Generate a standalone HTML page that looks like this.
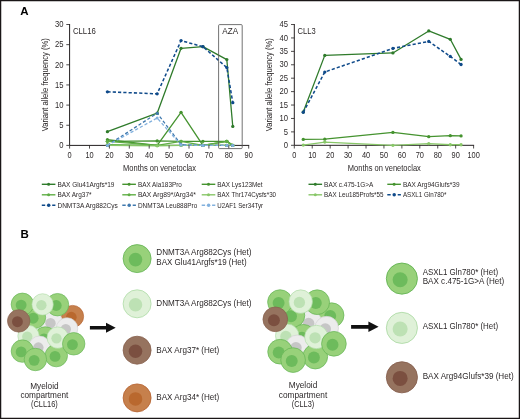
<!DOCTYPE html>
<html lang="en">
<head>
<meta charset="utf-8">
<title>Figure</title>
<style>
html,body{margin:0;padding:0;background:#fff;}
body{width:520px;height:419px;overflow:hidden;position:relative;font-family:"Liberation Sans",sans-serif;}
svg text{font-family:"Liberation Sans",sans-serif;}
</style>
</head>
<body>
<svg width="520" height="419" viewBox="0 0 520 419" style="position:absolute;left:0;top:0;display:block;will-change:transform;opacity:0.999">
<rect x="0" y="0" width="520" height="419" fill="#fff"/>
<path d="M69.6 24.0V145.4H249.2" fill="none" stroke="#231f20" stroke-width="1"/>
<polyline points="107.41,131.70 157.16,113.16 181.04,48.28 202.93,46.67 226.81,59.56 232.78,126.46" fill="none" stroke="#2f7b2b" stroke-width="1.3" stroke-linejoin="round"/>
<circle cx="107.41" cy="131.70" r="1.65" fill="#2f7b2b"/>
<circle cx="157.16" cy="113.16" r="1.65" fill="#2f7b2b"/>
<circle cx="181.04" cy="48.28" r="1.65" fill="#2f7b2b"/>
<circle cx="202.93" cy="46.67" r="1.65" fill="#2f7b2b"/>
<circle cx="226.81" cy="59.56" r="1.65" fill="#2f7b2b"/>
<circle cx="232.78" cy="126.46" r="1.65" fill="#2f7b2b"/>
<polyline points="107.41,139.76 157.16,145.40 181.04,112.35 202.93,145.40 226.81,141.37 232.78,145.40" fill="none" stroke="#45932f" stroke-width="1.3" stroke-linejoin="round"/>
<circle cx="107.41" cy="139.76" r="1.65" fill="#45932f"/>
<circle cx="157.16" cy="145.40" r="1.65" fill="#45932f"/>
<circle cx="181.04" cy="112.35" r="1.65" fill="#45932f"/>
<circle cx="202.93" cy="145.40" r="1.65" fill="#45932f"/>
<circle cx="226.81" cy="141.37" r="1.65" fill="#45932f"/>
<circle cx="232.78" cy="145.40" r="1.65" fill="#45932f"/>
<polyline points="107.41,141.37 157.16,140.97 181.04,141.37 202.93,141.37 226.81,141.37 232.78,145.40" fill="none" stroke="#45932f" stroke-width="1.3" stroke-linejoin="round"/>
<circle cx="107.41" cy="141.37" r="1.65" fill="#45932f"/>
<circle cx="157.16" cy="140.97" r="1.65" fill="#45932f"/>
<circle cx="181.04" cy="141.37" r="1.65" fill="#45932f"/>
<circle cx="202.93" cy="141.37" r="1.65" fill="#45932f"/>
<circle cx="226.81" cy="141.37" r="1.65" fill="#45932f"/>
<circle cx="232.78" cy="145.40" r="1.65" fill="#45932f"/>
<polyline points="107.41,141.37 157.16,145.40 181.04,141.37 202.93,145.40 226.81,141.37 232.78,145.40" fill="none" stroke="#5fae45" stroke-width="1.3" stroke-linejoin="round"/>
<circle cx="107.41" cy="141.37" r="1.65" fill="#5fae45"/>
<circle cx="157.16" cy="145.40" r="1.65" fill="#5fae45"/>
<circle cx="181.04" cy="141.37" r="1.65" fill="#5fae45"/>
<circle cx="202.93" cy="145.40" r="1.65" fill="#5fae45"/>
<circle cx="226.81" cy="141.37" r="1.65" fill="#5fae45"/>
<circle cx="232.78" cy="145.40" r="1.65" fill="#5fae45"/>
<polyline points="107.41,144.59 157.16,145.40 181.04,145.40 202.93,145.40 226.81,145.40 232.78,145.40" fill="none" stroke="#5fae45" stroke-width="1.3" stroke-linejoin="round"/>
<circle cx="107.41" cy="144.59" r="1.65" fill="#5fae45"/>
<circle cx="157.16" cy="145.40" r="1.65" fill="#5fae45"/>
<circle cx="181.04" cy="145.40" r="1.65" fill="#5fae45"/>
<circle cx="202.93" cy="145.40" r="1.65" fill="#5fae45"/>
<circle cx="226.81" cy="145.40" r="1.65" fill="#5fae45"/>
<circle cx="232.78" cy="145.40" r="1.65" fill="#5fae45"/>
<polyline points="107.41,145.40 157.16,145.80 181.04,145.40 202.93,145.40 226.81,145.40 232.78,145.40" fill="none" stroke="#88c768" stroke-width="1.3" stroke-linejoin="round"/>
<circle cx="107.41" cy="145.40" r="1.65" fill="#88c768"/>
<circle cx="157.16" cy="145.80" r="1.65" fill="#88c768"/>
<circle cx="181.04" cy="145.40" r="1.65" fill="#88c768"/>
<circle cx="202.93" cy="145.40" r="1.65" fill="#88c768"/>
<circle cx="226.81" cy="145.40" r="1.65" fill="#88c768"/>
<circle cx="232.78" cy="145.40" r="1.65" fill="#88c768"/>
<polyline points="107.41,91.80 157.16,93.82 181.04,40.62 202.93,46.67 226.81,67.62 232.78,102.68" fill="none" stroke="#0f4a8a" stroke-width="1.55" stroke-dasharray="3.2 2.1" stroke-linejoin="round"/>
<circle cx="107.41" cy="91.80" r="1.65" fill="#0f4a8a"/>
<circle cx="157.16" cy="93.82" r="1.65" fill="#0f4a8a"/>
<circle cx="181.04" cy="40.62" r="1.65" fill="#0f4a8a"/>
<circle cx="202.93" cy="46.67" r="1.65" fill="#0f4a8a"/>
<circle cx="226.81" cy="67.62" r="1.65" fill="#0f4a8a"/>
<circle cx="232.78" cy="102.68" r="1.65" fill="#0f4a8a"/>
<polyline points="107.41,145.40 157.16,113.16 181.04,144.59 202.93,145.40 226.81,145.40 232.78,145.40" fill="none" stroke="#4079ae" stroke-width="1.3" stroke-dasharray="3.2 2.1" stroke-linejoin="round"/>
<circle cx="107.41" cy="145.40" r="1.5" fill="#4079ae"/>
<circle cx="157.16" cy="113.16" r="1.5" fill="#4079ae"/>
<circle cx="181.04" cy="144.59" r="1.5" fill="#4079ae"/>
<circle cx="202.93" cy="145.40" r="1.5" fill="#4079ae"/>
<circle cx="226.81" cy="145.40" r="1.5" fill="#4079ae"/>
<circle cx="232.78" cy="145.40" r="1.5" fill="#4079ae"/>
<polyline points="107.41,145.40 157.16,118.00 181.04,145.00 202.93,145.40 226.81,145.40 232.78,145.40" fill="none" stroke="#82b1de" stroke-width="1.3" stroke-dasharray="3.2 2.1" stroke-linejoin="round"/>
<circle cx="107.41" cy="145.40" r="1.5" fill="#82b1de"/>
<circle cx="157.16" cy="118.00" r="1.5" fill="#82b1de"/>
<circle cx="181.04" cy="145.00" r="1.5" fill="#82b1de"/>
<circle cx="202.93" cy="145.40" r="1.5" fill="#82b1de"/>
<circle cx="226.81" cy="145.40" r="1.5" fill="#82b1de"/>
<circle cx="232.78" cy="145.40" r="1.5" fill="#82b1de"/>
<path d="M66.3 145.40H69.6" stroke="#231f20" stroke-width="0.8"/>
<text transform="translate(63.5 148.1) scale(0.91 1)" font-size="8.4" text-anchor="end" font-weight="normal" fill="#2d292a" >0</text>
<path d="M66.3 125.25H69.6" stroke="#231f20" stroke-width="0.8"/>
<text transform="translate(63.5 127.95) scale(0.91 1)" font-size="8.4" text-anchor="end" font-weight="normal" fill="#2d292a" >5</text>
<path d="M66.3 105.10H69.6" stroke="#231f20" stroke-width="0.8"/>
<text transform="translate(63.5 107.8) scale(0.91 1)" font-size="8.4" text-anchor="end" font-weight="normal" fill="#2d292a" >10</text>
<path d="M66.3 84.95H69.6" stroke="#231f20" stroke-width="0.8"/>
<text transform="translate(63.5 87.65) scale(0.91 1)" font-size="8.4" text-anchor="end" font-weight="normal" fill="#2d292a" >15</text>
<path d="M66.3 64.80H69.6" stroke="#231f20" stroke-width="0.8"/>
<text transform="translate(63.5 67.5) scale(0.91 1)" font-size="8.4" text-anchor="end" font-weight="normal" fill="#2d292a" >20</text>
<path d="M66.3 44.65H69.6" stroke="#231f20" stroke-width="0.8"/>
<text transform="translate(63.5 47.35) scale(0.91 1)" font-size="8.4" text-anchor="end" font-weight="normal" fill="#2d292a" >25</text>
<path d="M66.3 24.50H69.6" stroke="#231f20" stroke-width="0.8"/>
<text transform="translate(63.5 27.2) scale(0.91 1)" font-size="8.4" text-anchor="end" font-weight="normal" fill="#2d292a" >30</text>
<path d="M69.60 145.4V148.6" stroke="#231f20" stroke-width="0.8"/>
<text transform="translate(69.6 157.8) scale(0.88 1)" font-size="8.4" text-anchor="middle" font-weight="normal" fill="#2d292a" >0</text>
<path d="M89.50 145.4V148.6" stroke="#231f20" stroke-width="0.8"/>
<text transform="translate(89.5 157.8) scale(0.88 1)" font-size="8.4" text-anchor="middle" font-weight="normal" fill="#2d292a" >10</text>
<path d="M109.40 145.4V148.6" stroke="#231f20" stroke-width="0.8"/>
<text transform="translate(109.4 157.8) scale(0.88 1)" font-size="8.4" text-anchor="middle" font-weight="normal" fill="#2d292a" >20</text>
<path d="M129.30 145.4V148.6" stroke="#231f20" stroke-width="0.8"/>
<text transform="translate(129.3 157.8) scale(0.88 1)" font-size="8.4" text-anchor="middle" font-weight="normal" fill="#2d292a" >30</text>
<path d="M149.20 145.4V148.6" stroke="#231f20" stroke-width="0.8"/>
<text transform="translate(149.2 157.8) scale(0.88 1)" font-size="8.4" text-anchor="middle" font-weight="normal" fill="#2d292a" >40</text>
<path d="M169.10 145.4V148.6" stroke="#231f20" stroke-width="0.8"/>
<text transform="translate(169.1 157.8) scale(0.88 1)" font-size="8.4" text-anchor="middle" font-weight="normal" fill="#2d292a" >50</text>
<path d="M189.00 145.4V148.6" stroke="#231f20" stroke-width="0.8"/>
<text transform="translate(189.0 157.8) scale(0.88 1)" font-size="8.4" text-anchor="middle" font-weight="normal" fill="#2d292a" >60</text>
<path d="M208.90 145.4V148.6" stroke="#231f20" stroke-width="0.8"/>
<text transform="translate(208.9 157.8) scale(0.88 1)" font-size="8.4" text-anchor="middle" font-weight="normal" fill="#2d292a" >70</text>
<path d="M228.80 145.4V148.6" stroke="#231f20" stroke-width="0.8"/>
<text transform="translate(228.8 157.8) scale(0.88 1)" font-size="8.4" text-anchor="middle" font-weight="normal" fill="#2d292a" >80</text>
<path d="M248.70 145.4V148.6" stroke="#231f20" stroke-width="0.8"/>
<text transform="translate(248.7 157.8) scale(0.88 1)" font-size="8.4" text-anchor="middle" font-weight="normal" fill="#2d292a" >90</text>
<text transform="translate(72.89999999999999 34.2) scale(0.885 1)" font-size="8.8" text-anchor="start" font-weight="normal" fill="#2d292a" >CLL16</text>
<text x="159.55" y="171.2" font-size="9.6" text-anchor="middle" font-weight="normal" fill="#2d292a" textLength="73" lengthAdjust="spacingAndGlyphs" >Months on venetoclax</text>
<text transform="translate(47.9 84.7) rotate(-90)" font-size="9" text-anchor="middle" fill="#231f20" textLength="93.2" lengthAdjust="spacingAndGlyphs">Variant allele frequency (%)</text>
<rect x="218.6" y="24.6" width="23.6" height="124" rx="1" fill="none" stroke="#5a5a5a" stroke-width="0.85"/>
<text transform="translate(230.3 33.9) scale(0.95 1)" font-size="8.6" text-anchor="middle" font-weight="normal" fill="#2d292a" >AZA</text>
<path d="M294.3 24.02000000000001V145.3H474.1" fill="none" stroke="#231f20" stroke-width="1"/>
<polyline points="303.26,112.02 324.78,55.39 392.92,52.97 428.77,30.96 450.29,39.28 461.05,59.41" fill="none" stroke="#2f7b2b" stroke-width="1.3" stroke-linejoin="round"/>
<circle cx="303.26" cy="112.02" r="1.65" fill="#2f7b2b"/>
<circle cx="324.78" cy="55.39" r="1.65" fill="#2f7b2b"/>
<circle cx="392.92" cy="52.97" r="1.65" fill="#2f7b2b"/>
<circle cx="428.77" cy="30.96" r="1.65" fill="#2f7b2b"/>
<circle cx="450.29" cy="39.28" r="1.65" fill="#2f7b2b"/>
<circle cx="461.05" cy="59.41" r="1.65" fill="#2f7b2b"/>
<polyline points="303.26,139.40 324.78,139.13 392.92,132.42 428.77,136.71 450.29,135.64 461.05,135.91" fill="none" stroke="#45932f" stroke-width="1.3" stroke-linejoin="round"/>
<circle cx="303.26" cy="139.40" r="1.65" fill="#45932f"/>
<circle cx="324.78" cy="139.13" r="1.65" fill="#45932f"/>
<circle cx="392.92" cy="132.42" r="1.65" fill="#45932f"/>
<circle cx="428.77" cy="136.71" r="1.65" fill="#45932f"/>
<circle cx="450.29" cy="135.64" r="1.65" fill="#45932f"/>
<circle cx="461.05" cy="135.91" r="1.65" fill="#45932f"/>
<polyline points="303.26,145.03 324.78,142.08 392.92,145.30 428.77,143.69 450.29,144.76 461.05,144.76" fill="none" stroke="#88c768" stroke-width="1.3" stroke-linejoin="round"/>
<circle cx="303.26" cy="145.03" r="1.65" fill="#88c768"/>
<circle cx="324.78" cy="142.08" r="1.65" fill="#88c768"/>
<circle cx="392.92" cy="145.30" r="1.65" fill="#88c768"/>
<circle cx="428.77" cy="143.69" r="1.65" fill="#88c768"/>
<circle cx="450.29" cy="144.76" r="1.65" fill="#88c768"/>
<circle cx="461.05" cy="144.76" r="1.65" fill="#88c768"/>
<polyline points="303.26,112.29 324.78,72.03 392.92,48.41 428.77,41.43 450.29,56.46 461.05,64.51" fill="none" stroke="#0f4a8a" stroke-width="1.55" stroke-dasharray="3.2 2.1" stroke-linejoin="round"/>
<circle cx="303.26" cy="112.29" r="1.65" fill="#0f4a8a"/>
<circle cx="324.78" cy="72.03" r="1.65" fill="#0f4a8a"/>
<circle cx="392.92" cy="48.41" r="1.65" fill="#0f4a8a"/>
<circle cx="428.77" cy="41.43" r="1.65" fill="#0f4a8a"/>
<circle cx="450.29" cy="56.46" r="1.65" fill="#0f4a8a"/>
<circle cx="461.05" cy="64.51" r="1.65" fill="#0f4a8a"/>
<path d="M291.0 145.30H294.3" stroke="#231f20" stroke-width="0.8"/>
<text transform="translate(287.9 148.0) scale(0.91 1)" font-size="8.4" text-anchor="end" font-weight="normal" fill="#2d292a" >0</text>
<path d="M291.0 131.88H294.3" stroke="#231f20" stroke-width="0.8"/>
<text transform="translate(287.9 134.58) scale(0.91 1)" font-size="8.4" text-anchor="end" font-weight="normal" fill="#2d292a" >5</text>
<path d="M291.0 118.46H294.3" stroke="#231f20" stroke-width="0.8"/>
<text transform="translate(287.9 121.16) scale(0.91 1)" font-size="8.4" text-anchor="end" font-weight="normal" fill="#2d292a" >10</text>
<path d="M291.0 105.04H294.3" stroke="#231f20" stroke-width="0.8"/>
<text transform="translate(287.9 107.74) scale(0.91 1)" font-size="8.4" text-anchor="end" font-weight="normal" fill="#2d292a" >15</text>
<path d="M291.0 91.62H294.3" stroke="#231f20" stroke-width="0.8"/>
<text transform="translate(287.9 94.32) scale(0.91 1)" font-size="8.4" text-anchor="end" font-weight="normal" fill="#2d292a" >20</text>
<path d="M291.0 78.20H294.3" stroke="#231f20" stroke-width="0.8"/>
<text transform="translate(287.9 80.9) scale(0.91 1)" font-size="8.4" text-anchor="end" font-weight="normal" fill="#2d292a" >25</text>
<path d="M291.0 64.78H294.3" stroke="#231f20" stroke-width="0.8"/>
<text transform="translate(287.9 67.48) scale(0.91 1)" font-size="8.4" text-anchor="end" font-weight="normal" fill="#2d292a" >30</text>
<path d="M291.0 51.36H294.3" stroke="#231f20" stroke-width="0.8"/>
<text transform="translate(287.9 54.06) scale(0.91 1)" font-size="8.4" text-anchor="end" font-weight="normal" fill="#2d292a" >35</text>
<path d="M291.0 37.94H294.3" stroke="#231f20" stroke-width="0.8"/>
<text transform="translate(287.9 40.64) scale(0.91 1)" font-size="8.4" text-anchor="end" font-weight="normal" fill="#2d292a" >40</text>
<path d="M291.0 24.52H294.3" stroke="#231f20" stroke-width="0.8"/>
<text transform="translate(287.9 27.22) scale(0.91 1)" font-size="8.4" text-anchor="end" font-weight="normal" fill="#2d292a" >45</text>
<path d="M294.30 145.3V148.5" stroke="#231f20" stroke-width="0.8"/>
<text transform="translate(294.3 157.8) scale(0.88 1)" font-size="8.4" text-anchor="middle" font-weight="normal" fill="#2d292a" >0</text>
<path d="M312.23 145.3V148.5" stroke="#231f20" stroke-width="0.8"/>
<text transform="translate(312.23 157.8) scale(0.88 1)" font-size="8.4" text-anchor="middle" font-weight="normal" fill="#2d292a" >10</text>
<path d="M330.16 145.3V148.5" stroke="#231f20" stroke-width="0.8"/>
<text transform="translate(330.16 157.8) scale(0.88 1)" font-size="8.4" text-anchor="middle" font-weight="normal" fill="#2d292a" >20</text>
<path d="M348.09 145.3V148.5" stroke="#231f20" stroke-width="0.8"/>
<text transform="translate(348.09 157.8) scale(0.88 1)" font-size="8.4" text-anchor="middle" font-weight="normal" fill="#2d292a" >30</text>
<path d="M366.02 145.3V148.5" stroke="#231f20" stroke-width="0.8"/>
<text transform="translate(366.02 157.8) scale(0.88 1)" font-size="8.4" text-anchor="middle" font-weight="normal" fill="#2d292a" >40</text>
<path d="M383.95 145.3V148.5" stroke="#231f20" stroke-width="0.8"/>
<text transform="translate(383.95 157.8) scale(0.88 1)" font-size="8.4" text-anchor="middle" font-weight="normal" fill="#2d292a" >50</text>
<path d="M401.88 145.3V148.5" stroke="#231f20" stroke-width="0.8"/>
<text transform="translate(401.88 157.8) scale(0.88 1)" font-size="8.4" text-anchor="middle" font-weight="normal" fill="#2d292a" >60</text>
<path d="M419.81 145.3V148.5" stroke="#231f20" stroke-width="0.8"/>
<text transform="translate(419.81 157.8) scale(0.88 1)" font-size="8.4" text-anchor="middle" font-weight="normal" fill="#2d292a" >70</text>
<path d="M437.74 145.3V148.5" stroke="#231f20" stroke-width="0.8"/>
<text transform="translate(437.74 157.8) scale(0.88 1)" font-size="8.4" text-anchor="middle" font-weight="normal" fill="#2d292a" >80</text>
<path d="M455.67 145.3V148.5" stroke="#231f20" stroke-width="0.8"/>
<text transform="translate(455.67 157.8) scale(0.88 1)" font-size="8.4" text-anchor="middle" font-weight="normal" fill="#2d292a" >90</text>
<path d="M473.60 145.3V148.5" stroke="#231f20" stroke-width="0.8"/>
<text transform="translate(473.6 157.8) scale(0.88 1)" font-size="8.4" text-anchor="middle" font-weight="normal" fill="#2d292a" >100</text>
<text transform="translate(297.6 34.0) scale(0.86 1)" font-size="8.8" text-anchor="start" font-weight="normal" fill="#2d292a" >CLL3</text>
<text x="384.35" y="171.2" font-size="9.6" text-anchor="middle" font-weight="normal" fill="#2d292a" textLength="73" lengthAdjust="spacingAndGlyphs" >Months on venetoclax</text>
<text transform="translate(272.4 84.7) rotate(-90)" font-size="9" text-anchor="middle" fill="#231f20" textLength="93.2" lengthAdjust="spacingAndGlyphs">Variant allele frequency (%)</text>
<path d="M41.8 184.3h13.6" stroke="#2f7b2b" stroke-width="1.4"/>
<circle cx="48.599999999999994" cy="184.3" r="1.5" fill="#2f7b2b"/>
<text x="57.4" y="186.8" font-size="7.1" text-anchor="start" font-weight="normal" fill="#2d292a" textLength="57.1" lengthAdjust="spacingAndGlyphs" >BAX Glu41Argfs*19</text>
<path d="M41.8 194.8h13.6" stroke="#5fae45" stroke-width="1.4"/>
<circle cx="48.599999999999994" cy="194.8" r="1.5" fill="#5fae45"/>
<text x="57.4" y="197.3" font-size="7.1" text-anchor="start" font-weight="normal" fill="#2d292a" textLength="34.1" lengthAdjust="spacingAndGlyphs" >BAX Arg37*</text>
<path d="M41.8 205.3h3.4M52.199999999999996 205.3h3.2" stroke="#0f4a8a" stroke-width="1.5"/>
<circle cx="48.699999999999996" cy="205.3" r="1.75" fill="#0f4a8a"/>
<text x="57.4" y="207.8" font-size="7.1" text-anchor="start" font-weight="normal" fill="#2d292a" textLength="60.5" lengthAdjust="spacingAndGlyphs" >DNMT3A Arg882Cys</text>
<path d="M122.3 184.3h13.6" stroke="#45932f" stroke-width="1.4"/>
<circle cx="129.1" cy="184.3" r="1.5" fill="#45932f"/>
<text x="137.9" y="186.8" font-size="7.1" text-anchor="start" font-weight="normal" fill="#2d292a" textLength="44" lengthAdjust="spacingAndGlyphs" >BAX Ala183Pro</text>
<path d="M122.3 194.8h13.6" stroke="#5fae45" stroke-width="1.4"/>
<circle cx="129.1" cy="194.8" r="1.5" fill="#5fae45"/>
<text x="137.9" y="197.3" font-size="7.1" text-anchor="start" font-weight="normal" fill="#2d292a" textLength="57.9" lengthAdjust="spacingAndGlyphs" >BAX Arg89*/Arg34*</text>
<path d="M122.3 205.3h3.4M132.7 205.3h3.2" stroke="#4079ae" stroke-width="1.5"/>
<circle cx="129.2" cy="205.3" r="1.75" fill="#4079ae"/>
<text x="137.9" y="207.8" font-size="7.1" text-anchor="start" font-weight="normal" fill="#2d292a" textLength="59.4" lengthAdjust="spacingAndGlyphs" >DNMT3A Leu888Pro</text>
<path d="M201.7 184.3h13.6" stroke="#45932f" stroke-width="1.4"/>
<circle cx="208.5" cy="184.3" r="1.5" fill="#45932f"/>
<text x="217.29999999999998" y="186.8" font-size="7.1" text-anchor="start" font-weight="normal" fill="#2d292a" textLength="45.3" lengthAdjust="spacingAndGlyphs" >BAX Lys123Met</text>
<path d="M201.7 194.8h13.6" stroke="#88c768" stroke-width="1.4"/>
<circle cx="208.5" cy="194.8" r="1.5" fill="#88c768"/>
<text x="217.29999999999998" y="197.3" font-size="7.1" text-anchor="start" font-weight="normal" fill="#2d292a" textLength="58.8" lengthAdjust="spacingAndGlyphs" >BAX Thr174Cysfs*30</text>
<path d="M201.7 205.3h3.4M212.1 205.3h3.2" stroke="#82b1de" stroke-width="1.5"/>
<circle cx="208.6" cy="205.3" r="1.75" fill="#82b1de"/>
<text x="217.29999999999998" y="207.8" font-size="7.1" text-anchor="start" font-weight="normal" fill="#2d292a" textLength="45.8" lengthAdjust="spacingAndGlyphs" >U2AF1 Ser34Tyr</text>
<path d="M308.5 184.3h13.6" stroke="#2f7b2b" stroke-width="1.4"/>
<circle cx="315.3" cy="184.3" r="1.5" fill="#2f7b2b"/>
<text x="324.1" y="186.8" font-size="7.1" text-anchor="start" font-weight="normal" fill="#2d292a" textLength="49.3" lengthAdjust="spacingAndGlyphs" >BAX c.475-1G&gt;A</text>
<path d="M308.5 194.8h13.6" stroke="#88c768" stroke-width="1.4"/>
<circle cx="315.3" cy="194.8" r="1.5" fill="#88c768"/>
<text x="324.1" y="197.3" font-size="7.1" text-anchor="start" font-weight="normal" fill="#2d292a" textLength="59.4" lengthAdjust="spacingAndGlyphs" >BAX Leu185Profs*55</text>
<path d="M387.3 184.3h13.6" stroke="#45932f" stroke-width="1.4"/>
<circle cx="394.1" cy="184.3" r="1.5" fill="#45932f"/>
<text x="402.90000000000003" y="186.8" font-size="7.1" text-anchor="start" font-weight="normal" fill="#2d292a" textLength="56.6" lengthAdjust="spacingAndGlyphs" >BAX Arg94Glufs*39</text>
<path d="M387.3 194.8h3.4M397.7 194.8h3.2" stroke="#0f4a8a" stroke-width="1.5"/>
<circle cx="394.2" cy="194.8" r="1.75" fill="#0f4a8a"/>
<text x="402.90000000000003" y="197.3" font-size="7.1" text-anchor="start" font-weight="normal" fill="#2d292a" textLength="43.6" lengthAdjust="spacingAndGlyphs" >ASXL1 Gln780*</text>
<text x="20.2" y="15.1" font-size="11.5" text-anchor="start" font-weight="bold" fill="#000" >A</text>
<text x="20.6" y="237.8" font-size="11.5" text-anchor="start" font-weight="bold" fill="#000" >B</text>
<circle cx="42.50" cy="327.00" r="10.40" fill="#f3f8fb" stroke="#c7dff0" stroke-width="0.8"/>
<circle cx="72.60" cy="316.40" r="11.01" fill="#c6804c" stroke="#b5602f" stroke-width="0.62"/>
<circle cx="71.35" cy="317.19" r="5.32" fill="#b9682e"/>
<circle cx="51.70" cy="322.40" r="10.78" fill="#ececec" stroke="#d2d2d2" stroke-width="0.61"/>
<circle cx="50.48" cy="323.18" r="5.21" fill="#c6c6c6"/>
<circle cx="34.40" cy="317.40" r="11.23" fill="#98d17a" stroke="#62b352" stroke-width="0.64"/>
<circle cx="33.13" cy="318.21" r="5.43" fill="#6dbb5c"/>
<circle cx="67.00" cy="328.50" r="10.78" fill="#ececec" stroke="#d2d2d2" stroke-width="0.61"/>
<circle cx="65.78" cy="329.28" r="5.21" fill="#c6c6c6"/>
<circle cx="45.30" cy="338.00" r="11.23" fill="#98d17a" stroke="#62b352" stroke-width="0.64"/>
<circle cx="44.03" cy="338.81" r="5.43" fill="#6dbb5c"/>
<circle cx="28.50" cy="336.00" r="10.67" fill="#dff1d8" stroke="#aedba6" stroke-width="0.60"/>
<circle cx="27.29" cy="336.77" r="5.16" fill="#bde1b4"/>
<circle cx="39.60" cy="346.80" r="10.78" fill="#ececec" stroke="#d2d2d2" stroke-width="0.61"/>
<circle cx="38.38" cy="347.58" r="5.21" fill="#c6c6c6"/>
<circle cx="22.40" cy="304.30" r="11.23" fill="#98d17a" stroke="#62b352" stroke-width="0.64"/>
<circle cx="21.13" cy="305.11" r="5.43" fill="#6dbb5c"/>
<circle cx="57.50" cy="304.70" r="11.23" fill="#98d17a" stroke="#62b352" stroke-width="0.64"/>
<circle cx="56.23" cy="305.51" r="5.43" fill="#6dbb5c"/>
<circle cx="42.60" cy="304.40" r="10.67" fill="#dff1d8" stroke="#aedba6" stroke-width="0.60"/>
<circle cx="41.39" cy="305.17" r="5.16" fill="#bde1b4"/>
<circle cx="18.70" cy="320.90" r="11.23" fill="#96735f" stroke="#86604e" stroke-width="0.64"/>
<circle cx="17.43" cy="321.71" r="5.43" fill="#7b4f40"/>
<circle cx="56.30" cy="355.60" r="11.23" fill="#98d17a" stroke="#62b352" stroke-width="0.64"/>
<circle cx="55.03" cy="356.41" r="5.43" fill="#6dbb5c"/>
<circle cx="57.70" cy="337.60" r="10.67" fill="#dff1d8" stroke="#aedba6" stroke-width="0.60"/>
<circle cx="56.49" cy="338.37" r="5.16" fill="#bde1b4"/>
<circle cx="22.40" cy="351.10" r="11.23" fill="#98d17a" stroke="#62b352" stroke-width="0.64"/>
<circle cx="21.13" cy="351.91" r="5.43" fill="#6dbb5c"/>
<circle cx="73.70" cy="343.80" r="11.23" fill="#98d17a" stroke="#62b352" stroke-width="0.64"/>
<circle cx="72.43" cy="344.61" r="5.43" fill="#6dbb5c"/>
<circle cx="35.40" cy="359.50" r="11.23" fill="#98d17a" stroke="#62b352" stroke-width="0.64"/>
<circle cx="34.13" cy="360.31" r="5.43" fill="#6dbb5c"/>
<circle cx="303.00" cy="324.00" r="11.43" fill="#f3f8fb" stroke="#c7dff0" stroke-width="0.8"/>
<circle cx="331.60" cy="315.20" r="12.35" fill="#98d17a" stroke="#62b352" stroke-width="0.70"/>
<circle cx="330.20" cy="316.09" r="5.97" fill="#6dbb5c"/>
<circle cx="310.00" cy="322.60" r="11.86" fill="#ececec" stroke="#d2d2d2" stroke-width="0.67"/>
<circle cx="308.66" cy="323.45" r="5.73" fill="#c6c6c6"/>
<circle cx="292.40" cy="315.40" r="12.35" fill="#98d17a" stroke="#62b352" stroke-width="0.70"/>
<circle cx="291.00" cy="316.29" r="5.97" fill="#6dbb5c"/>
<circle cx="326.60" cy="328.20" r="11.86" fill="#ececec" stroke="#d2d2d2" stroke-width="0.67"/>
<circle cx="325.26" cy="329.05" r="5.73" fill="#c6c6c6"/>
<circle cx="303.30" cy="336.80" r="12.35" fill="#98d17a" stroke="#62b352" stroke-width="0.70"/>
<circle cx="301.90" cy="337.69" r="5.97" fill="#6dbb5c"/>
<circle cx="287.20" cy="335.70" r="11.73" fill="#dff1d8" stroke="#aedba6" stroke-width="0.66"/>
<circle cx="285.87" cy="336.54" r="5.67" fill="#bde1b4"/>
<circle cx="297.30" cy="346.90" r="11.86" fill="#ececec" stroke="#d2d2d2" stroke-width="0.67"/>
<circle cx="295.96" cy="347.75" r="5.73" fill="#c6c6c6"/>
<circle cx="280.00" cy="302.10" r="12.35" fill="#98d17a" stroke="#62b352" stroke-width="0.70"/>
<circle cx="278.60" cy="302.99" r="5.97" fill="#6dbb5c"/>
<circle cx="317.20" cy="302.20" r="12.35" fill="#98d17a" stroke="#62b352" stroke-width="0.70"/>
<circle cx="315.80" cy="303.09" r="5.97" fill="#6dbb5c"/>
<circle cx="300.70" cy="301.60" r="11.73" fill="#dff1d8" stroke="#aedba6" stroke-width="0.66"/>
<circle cx="299.37" cy="302.44" r="5.67" fill="#bde1b4"/>
<circle cx="275.30" cy="319.30" r="12.35" fill="#96735f" stroke="#86604e" stroke-width="0.70"/>
<circle cx="273.90" cy="320.19" r="5.97" fill="#7b4f40"/>
<circle cx="315.30" cy="356.60" r="12.35" fill="#98d17a" stroke="#62b352" stroke-width="0.70"/>
<circle cx="313.90" cy="357.49" r="5.97" fill="#6dbb5c"/>
<circle cx="316.40" cy="337.00" r="11.73" fill="#dff1d8" stroke="#aedba6" stroke-width="0.66"/>
<circle cx="315.07" cy="337.84" r="5.67" fill="#bde1b4"/>
<circle cx="280.10" cy="351.70" r="12.35" fill="#98d17a" stroke="#62b352" stroke-width="0.70"/>
<circle cx="278.70" cy="352.59" r="5.97" fill="#6dbb5c"/>
<circle cx="333.90" cy="343.80" r="12.35" fill="#98d17a" stroke="#62b352" stroke-width="0.70"/>
<circle cx="332.50" cy="344.69" r="5.97" fill="#6dbb5c"/>
<circle cx="293.10" cy="360.10" r="12.35" fill="#98d17a" stroke="#62b352" stroke-width="0.70"/>
<circle cx="291.70" cy="360.99" r="5.97" fill="#6dbb5c"/>
<circle cx="137.10" cy="258.60" r="14.00" fill="#98d17a" stroke="#62b352" stroke-width="0.79"/>
<circle cx="135.52" cy="259.61" r="6.77" fill="#6dbb5c"/>
<circle cx="137.10" cy="303.80" r="14.00" fill="#dff1d8" stroke="#aedba6" stroke-width="0.79"/>
<circle cx="135.52" cy="304.81" r="6.77" fill="#bde1b4"/>
<circle cx="137.10" cy="350.20" r="14.00" fill="#96735f" stroke="#86604e" stroke-width="0.79"/>
<circle cx="135.52" cy="351.21" r="6.77" fill="#7b4f40"/>
<circle cx="137.10" cy="397.90" r="14.00" fill="#c6804c" stroke="#b5602f" stroke-width="0.79"/>
<circle cx="135.52" cy="398.91" r="6.77" fill="#b9682e"/>
<circle cx="401.90" cy="278.60" r="15.56" fill="#98d17a" stroke="#62b352" stroke-width="0.88"/>
<circle cx="400.14" cy="279.72" r="7.52" fill="#6dbb5c"/>
<circle cx="401.90" cy="327.90" r="15.56" fill="#dff1d8" stroke="#aedba6" stroke-width="0.88"/>
<circle cx="400.14" cy="329.02" r="7.52" fill="#bde1b4"/>
<circle cx="401.90" cy="377.30" r="15.56" fill="#96735f" stroke="#86604e" stroke-width="0.88"/>
<circle cx="400.14" cy="378.42" r="7.52" fill="#7b4f40"/>
<path d="M89.9 326.0H106.0V322.8L115.7 327.8L106.0 332.8V329.6H89.9Z" fill="#111"/>
<path d="M351.1 324.90000000000003H368.4V321.55L378.6 326.8L368.4 332.05V328.7H351.1Z" fill="#111"/>
<text x="156.3" y="255.1" font-size="8.7" text-anchor="start" font-weight="normal" fill="#2d292a" textLength="95.2" lengthAdjust="spacingAndGlyphs" >DNMT3A Arg882Cys (Het)</text>
<text x="156.3" y="264.5" font-size="8.7" text-anchor="start" font-weight="normal" fill="#2d292a" textLength="90.3" lengthAdjust="spacingAndGlyphs" >BAX Glu41Argfs*19 (Het)</text>
<text x="156.3" y="305.9" font-size="8.7" text-anchor="start" font-weight="normal" fill="#2d292a" textLength="95.2" lengthAdjust="spacingAndGlyphs" >DNMT3A Arg882Cys (Het)</text>
<text x="156.3" y="352.9" font-size="8.7" text-anchor="start" font-weight="normal" fill="#2d292a" textLength="63" lengthAdjust="spacingAndGlyphs" >BAX Arg37* (Het)</text>
<text x="156.3" y="400.3" font-size="8.7" text-anchor="start" font-weight="normal" fill="#2d292a" textLength="63" lengthAdjust="spacingAndGlyphs" >BAX Arg34* (Het)</text>
<text x="422.7" y="274.9" font-size="8.7" text-anchor="start" font-weight="normal" fill="#2d292a" textLength="75.4" lengthAdjust="spacingAndGlyphs" >ASXL1 Gln780* (Het)</text>
<text x="422.7" y="284.3" font-size="8.7" text-anchor="start" font-weight="normal" fill="#2d292a" textLength="81.5" lengthAdjust="spacingAndGlyphs" >BAX c.475-1G&gt;A (Het)</text>
<text x="422.7" y="329.2" font-size="8.7" text-anchor="start" font-weight="normal" fill="#2d292a" textLength="75.4" lengthAdjust="spacingAndGlyphs" >ASXL1 Gln780* (Het)</text>
<text x="422.7" y="378.9" font-size="8.7" text-anchor="start" font-weight="normal" fill="#2d292a" textLength="91" lengthAdjust="spacingAndGlyphs" >BAX Arg94Glufs*39 (Het)</text>
<text x="44.4" y="388.7" font-size="8.4" text-anchor="middle" font-weight="normal" fill="#2d292a" textLength="28.4" lengthAdjust="spacingAndGlyphs" >Myeloid</text>
<text x="44.4" y="398.2" font-size="8.4" text-anchor="middle" font-weight="normal" fill="#2d292a" textLength="48.0" lengthAdjust="spacingAndGlyphs" >compartment</text>
<text x="44.4" y="407.4" font-size="8.4" text-anchor="middle" font-weight="normal" fill="#2d292a" textLength="26.9" lengthAdjust="spacingAndGlyphs" >(CLL16)</text>
<text x="303.0" y="388.3" font-size="8.4" text-anchor="middle" font-weight="normal" fill="#2d292a" textLength="28.5" lengthAdjust="spacingAndGlyphs" >Myeloid</text>
<text x="303.0" y="398.1" font-size="8.4" text-anchor="middle" font-weight="normal" fill="#2d292a" textLength="48.4" lengthAdjust="spacingAndGlyphs" >compartment</text>
<text x="303.0" y="407.3" font-size="8.4" text-anchor="middle" font-weight="normal" fill="#2d292a" textLength="22.6" lengthAdjust="spacingAndGlyphs" >(CLL3)</text>
<rect x="0.6" y="0.6" width="518.8" height="417.8" fill="none" stroke="#1a1617" stroke-width="1.3"/>
</svg>
</body>
</html>
